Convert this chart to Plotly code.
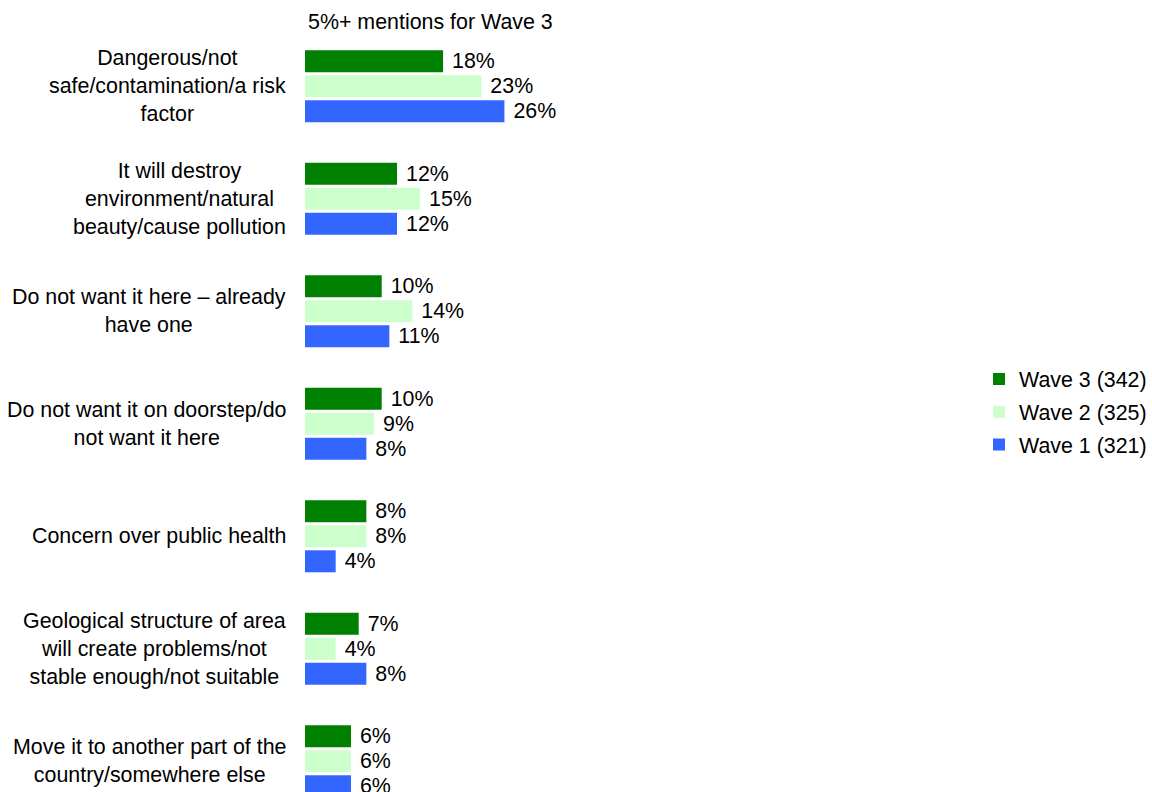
import plotly.graph_objects as go

# Reasons given, top to bottom
categories = [
    "Dangerous/not<br>safe/contamination/a risk<br>factor",
    "It will destroy<br>environment/natural<br>beauty/cause pollution",
    "Do not want it here \u2013 already<br>have one",
    "Do not want it on doorstep/do<br>not want it here",
    "Concern over public health",
    "Geological structure of area<br>will create problems/not<br>stable enough/not suitable",
    "Move it to another part of the<br>country/somewhere else",
]

# Percent of mentions per wave
wave3 = [18, 12, 10, 10, 8, 7, 6]
wave2 = [23, 15, 14, 9, 8, 4, 6]
wave1 = [26, 12, 11, 8, 4, 8, 6]

series_names = ["Wave 3 (342)", "Wave 2 (325)", "Wave 1 (321)"]
series_values = [wave3, wave2, wave1]
series_colors = ["#008000", "#CCFFCC", "#3366FF"]

title_text = "5%+ mentions for Wave 3"

FONT = "Liberation Sans, Arial, sans-serif"
FS = 21.4

positions = list(range(len(categories)))

fig = go.Figure()
for name, vals, color in zip(series_names, series_values, series_colors):
    fig.add_trace(go.Bar(
        name=name,
        legendgroup=name,
        y=positions,
        x=vals,
        orientation="h",
        marker=dict(color=color, line=dict(width=0)),
        text=["\u00a0" + f"{v}%" for v in vals],
        textposition="outside",
        textfont=dict(family=FONT, size=FS, color="#000000"),
        constraintext="none",
        cliponaxis=False,
        hoverinfo="skip",
    ))

# Category labels, centred text blocks to the left of the bars
for pos, label in zip(positions, categories):
    fig.add_annotation(
        text=label, xref="paper", x=0, xshift=-17, xanchor="right",
        yref="y", y=pos, yanchor="middle", align="center", showarrow=False,
        font=dict(family=FONT, size=FS, color="#000000"),
    )

fig.add_annotation(
    text=title_text, xref="paper", x=0, xshift=1, xanchor="left",
    yref="paper", y=1, yanchor="middle", yshift=8, showarrow=False,
    font=dict(family=FONT, size=FS, color="#000000"),
)

fig.update_layout(
    width=1152, height=792,
    margin=dict(l=305, r=200, t=30, b=0),
    paper_bgcolor="white", plot_bgcolor="white",
    barmode="group", bargap=0.333, bargroupgap=0.12,
    font=dict(family=FONT, size=FS, color="#000000"),
    showlegend=True,
    legend=dict(
        x=1.0505, xanchor="left", y=0.4987, yanchor="middle",
        font=dict(family=FONT, size=FS, color="#000000"),
        bgcolor="rgba(0,0,0,0)", itemwidth=30, traceorder="grouped",
        tracegroupgap=2,
    ),
    xaxis=dict(range=[0, 647 / 7.73], visible=False, showgrid=False, zeroline=False),
    yaxis=dict(range=[6.273, -0.5], showticklabels=False, showgrid=False,
               zeroline=False, showline=False, ticks=""),
)

fig.write_html("out.html")
